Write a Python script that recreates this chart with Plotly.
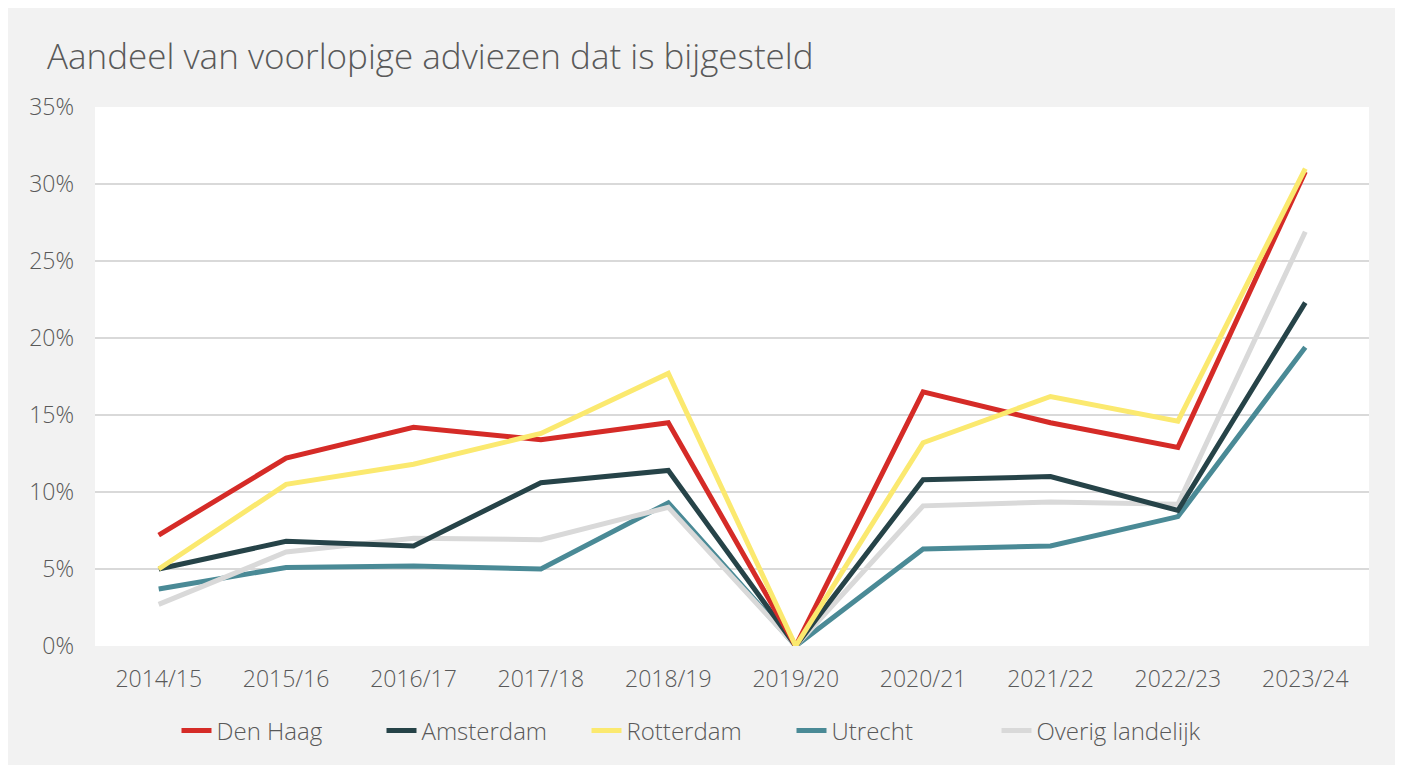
import plotly.graph_objects as go

categories = ["2014/15", "2015/16", "2016/17", "2017/18", "2018/19",
              "2019/20", "2020/21", "2021/22", "2022/23", "2023/24"]
den_haag = [7.2, 12.2, 14.2, 13.4, 14.5, 0.0, 16.5, 14.5, 12.9, 30.8]
amsterdam = [5.0, 6.8, 6.5, 10.6, 11.4, 0.0, 10.8, 11.0, 8.8, 22.3]
rotterdam = [5.0, 10.5, 11.8, 13.8, 17.7, 0.0, 13.2, 16.2, 14.6, 31.0]
utrecht = [3.7, 5.1, 5.2, 5.0, 9.3, 0.0, 6.3, 6.5, 8.4, 19.4]
overig = [2.7, 6.1, 7.0, 6.9, 9.0, 0.0, 9.1, 9.35, 9.2, 26.9]

series_names = ["Den Haag", "Amsterdam", "Rotterdam", "Utrecht", "Overig landelijk"]
series_values = [den_haag, amsterdam, rotterdam, utrecht, overig]
series_colors = ["#d52b27", "#264348", "#fbe96f", "#4a8a96", "#d9d9d9"]
draw_order = ["Utrecht", "Overig landelijk", "Amsterdam", "Den Haag", "Rotterdam"]

FONT = "'Open Sans', Lato, sans-serif"
TXT = "#595959"

fig = go.Figure()
for name in draw_order:
    i = series_names.index(name)
    fig.add_trace(go.Scatter(
        x=categories, y=[v / 100 for v in series_values[i]], name=name, mode="lines",
        line=dict(color=series_colors[i], width=5), legendrank=i + 1,
    ))

W, H = 1390, 757
L, R, T, B = 87, 29, 99, 119
pw, ph = W - L - R, H - T - B

def px_x(p):
    return (p - L) / pw

def px_y(p):
    return (H - B - p) / ph

fig.update_layout(
    width=W, height=H,
    margin=dict(l=L, r=R, t=T, b=B),
    paper_bgcolor="#f2f2f2",
    plot_bgcolor="white",
    font=dict(family=FONT, color=TXT, size=22, weight=300),
    showlegend=True,
    legend=dict(orientation="h", x=0.5 - 43 / pw, xanchor="center", y=px_y(723),
                yanchor="middle",
                font=dict(size=24, color=TXT, family=FONT, weight=300),
                entrywidth=160, entrywidthmode="pixels",
                bgcolor="rgba(0,0,0,0)", traceorder="normal"),
    xaxis=dict(showgrid=False, zeroline=False, showline=False, ticks="",
               range=[-0.5, len(categories) - 0.5],
               tickfont=dict(size=23, color=TXT, family=FONT, weight=300),
               ticklabelstandoff=17),
    yaxis=dict(range=[0, 0.35], dtick=0.05, tickformat=".0%", showgrid=True,
               gridcolor="#d9d9d9", gridwidth=2, zeroline=False, showline=False,
               tickfont=dict(size=23, color=TXT, family=FONT, weight=300),
               ticks="", ticklabelstandoff=20),
    annotations=[dict(text="Aandeel van voorlopige adviezen dat is bijgesteld",
                      xref="paper", yref="paper", x=px_x(37), y=px_y(47),
                      xanchor="left", yanchor="middle", showarrow=False,
                      font=dict(size=35, color=TXT, family=FONT, weight=300))],
)

fig.write_html("out.html")
